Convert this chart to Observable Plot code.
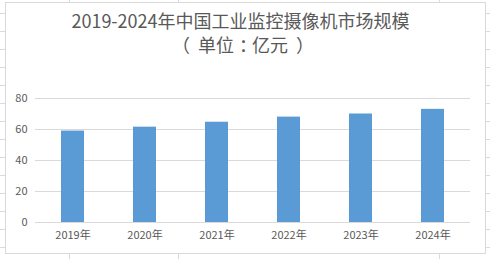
<!DOCTYPE html>
<html lang="zh-CN">
<head>
<meta charset="utf-8">
<script src="https://cdn.jsdelivr.net/npm/d3@7"></script>
<script src="https://cdn.jsdelivr.net/npm/@observablehq/plot@0.6"></script>
<style>
  html, body { margin: 0; padding: 0; background: #fff; }
  #wrap { position: relative; width: 490px; height: 259px; overflow: hidden; background: #fff;
    font-family: "Noto Sans CJK SC", "Noto Sans", sans-serif; }
  .row { position: absolute; left: 0; width: 490px; height: 1px; background: #dadada; }
  .col { position: absolute; top: 0; width: 1px; height: 259px; background: #dadada; }
  #box { position: absolute; left: 5px; top: 2px; width: 481px; height: 252px; box-sizing: border-box;
    border: 1px solid #d9d9d9; background: #fff; }
  #title { position: absolute; left: 0; width: 481px; top: 10px; text-align: center; color: #595959;
    font-size: 18px; line-height: 20px; white-space: nowrap; }
  #subtitle { position: absolute; left: 0; width: 486px; top: 35px; text-align: center; color: #595959;
    font-size: 18px; line-height: 18px; white-space: nowrap; text-spacing-trim: space-all; }
  #subtitle .h { font-feature-settings: "halt" 1; }
  #chart { position: absolute; left: 0; top: 0; }
</style>
</head>
<body>
<div id="wrap">
  <div id="box"></div>
  <div id="title">2019-2024年中国工业监控摄像机市场规模</div>
  <div id="subtitle"><span class="h" style="margin-right:8px">（</span>单位<span class="h" style="margin:0 4px 0 5px">：</span>亿元<span class="h" style="margin-left:8px">）</span></div>
  <div id="chart"></div>
</div>
<script>
const years = ["2019年", "2020年", "2021年", "2022年", "2023年", "2024年"];
const values = [59, 61.5, 64.7, 68, 70, 73];
const yTicks = [0, 20, 40, 60, 80];

// spreadsheet background grid (decoration)
const wrap = document.getElementById("wrap");
const box = document.getElementById("box");
for (let y = 13; y < 259; y += 18) {
  const d = document.createElement("div"); d.className = "row"; d.style.top = y + "px";
  wrap.insertBefore(d, box);
}
for (const x of [69, 178, 439]) {
  const d = document.createElement("div"); d.className = "col"; d.style.left = x + "px";
  wrap.insertBefore(d, box);
}

const data = years.map((year, i) => ({year, value: values[i]}));

const chart = Plot.plot({
  width: 490,
  height: 259,
  marginLeft: 35,
  marginRight: 20,
  marginTop: 98,
  marginBottom: 37,
  style: {background: "transparent", fontFamily: "'Noto Sans CJK SC', 'Noto Sans', sans-serif", fontSize: "11px", color: "#595959"},
  x: {domain: years, paddingInner: 0.68, paddingOuter: 0.34, label: null, tickSize: 0, tickPadding: 9},
  y: {domain: [0, 80], ticks: yTicks, label: null, tickSize: 0, tickPadding: 8},
  marks: [
    Plot.gridY(yTicks, {stroke: "#d9d9d9", strokeOpacity: 1}),
    Plot.barY(data, {x: "year", y: "value", fill: "#5b9bd5"}),
    Plot.ruleY([0], {stroke: "#d9d9d9"})
  ]
});
document.getElementById("chart").appendChild(chart);
</script>
</body>
</html>
